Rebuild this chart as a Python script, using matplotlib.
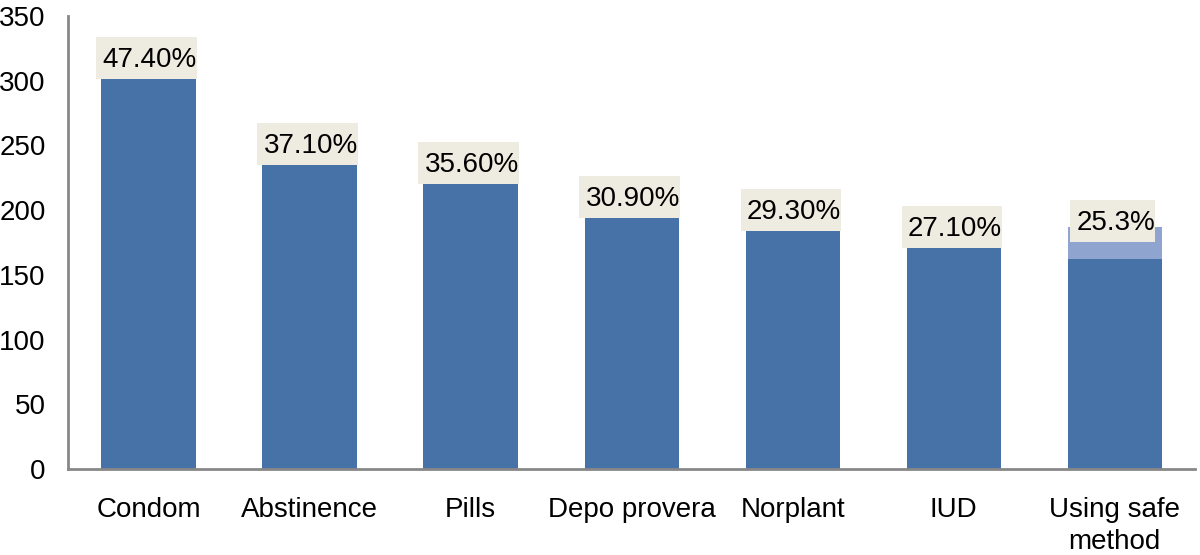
import matplotlib
matplotlib.use("Agg")
import matplotlib.pyplot as plt
from matplotlib.patches import Rectangle

categories = ["Condom", "Abstinence", "Pills", "Depo provera", "Norplant", "IUD", "Using safe\nmethod"]
values = [301, 235, 220, 194, 184, 171, 162]
extra = [0, 0, 0, 0, 0, 0, 25]
labels = ["47.40%", "37.10%", "35.60%", "30.90%", "29.30%", "27.10%", "25.3%"]
label_base = [301, 235, 220, 194, 184, 171, 175.5]

plt.rcParams['font.family'] = ['Liberation Sans', 'DejaVu Sans']

DPI = 100
fig = plt.figure(figsize=(12, 5.55), dpi=DPI)
ax = fig.add_axes([0.0567, 0.155, 0.9393, 0.816])

x = list(range(len(categories)))
ax.bar(x, values, width=0.585, color="#4672A8", zorder=2)
ax.bar(x, extra, bottom=values, width=0.585, color="#8FA5CF", zorder=2)

ax.set_xlim(-0.5, 6.5)
ax.set_ylim(0, 350)
ax.set_yticks([0, 50, 100, 150, 200, 250, 300, 350])
ax.set_xticks(x)
ax.set_xticklabels(categories, fontsize=20, linespacing=1.3)
ax.tick_params(axis="y", length=0, pad=16, labelsize=20)
ax.tick_params(axis="x", length=0, pad=20)
for s in ["top", "right"]:
    ax.spines[s].set_visible(False)
for s in ["left", "bottom"]:
    ax.spines[s].set_color("#888888")
    ax.spines[s].set_linewidth(2)

px2pt = 72.0 / DPI
texts = []
for xi, lb, yb in zip(x, labels, label_base):
    t = ax.annotate(lb, xy=(xi, yb), xytext=(1 * px2pt, 12 * px2pt), textcoords="offset points",
                    ha="center", va="baseline", fontsize=20, color="black", zorder=5)
    texts.append((t, yb))

fig.canvas.draw()
renderer = fig.canvas.get_renderer()
inv = ax.transData.inverted()
for t, yb in texts:
    bb = t.get_window_extent(renderer)
    base_disp = ax.transData.transform((0, yb))[1]
    x0, y0 = inv.transform((bb.x0 - 6, base_disp))
    x1, y1 = inv.transform((bb.x1 + 0, base_disp + 42))
    ax.add_patch(Rectangle((x0, y0), x1 - x0, y1 - y0, facecolor="#EEEBE0", edgecolor="none",
                           zorder=4, clip_on=False))

fig.savefig("out.png", dpi=DPI)
